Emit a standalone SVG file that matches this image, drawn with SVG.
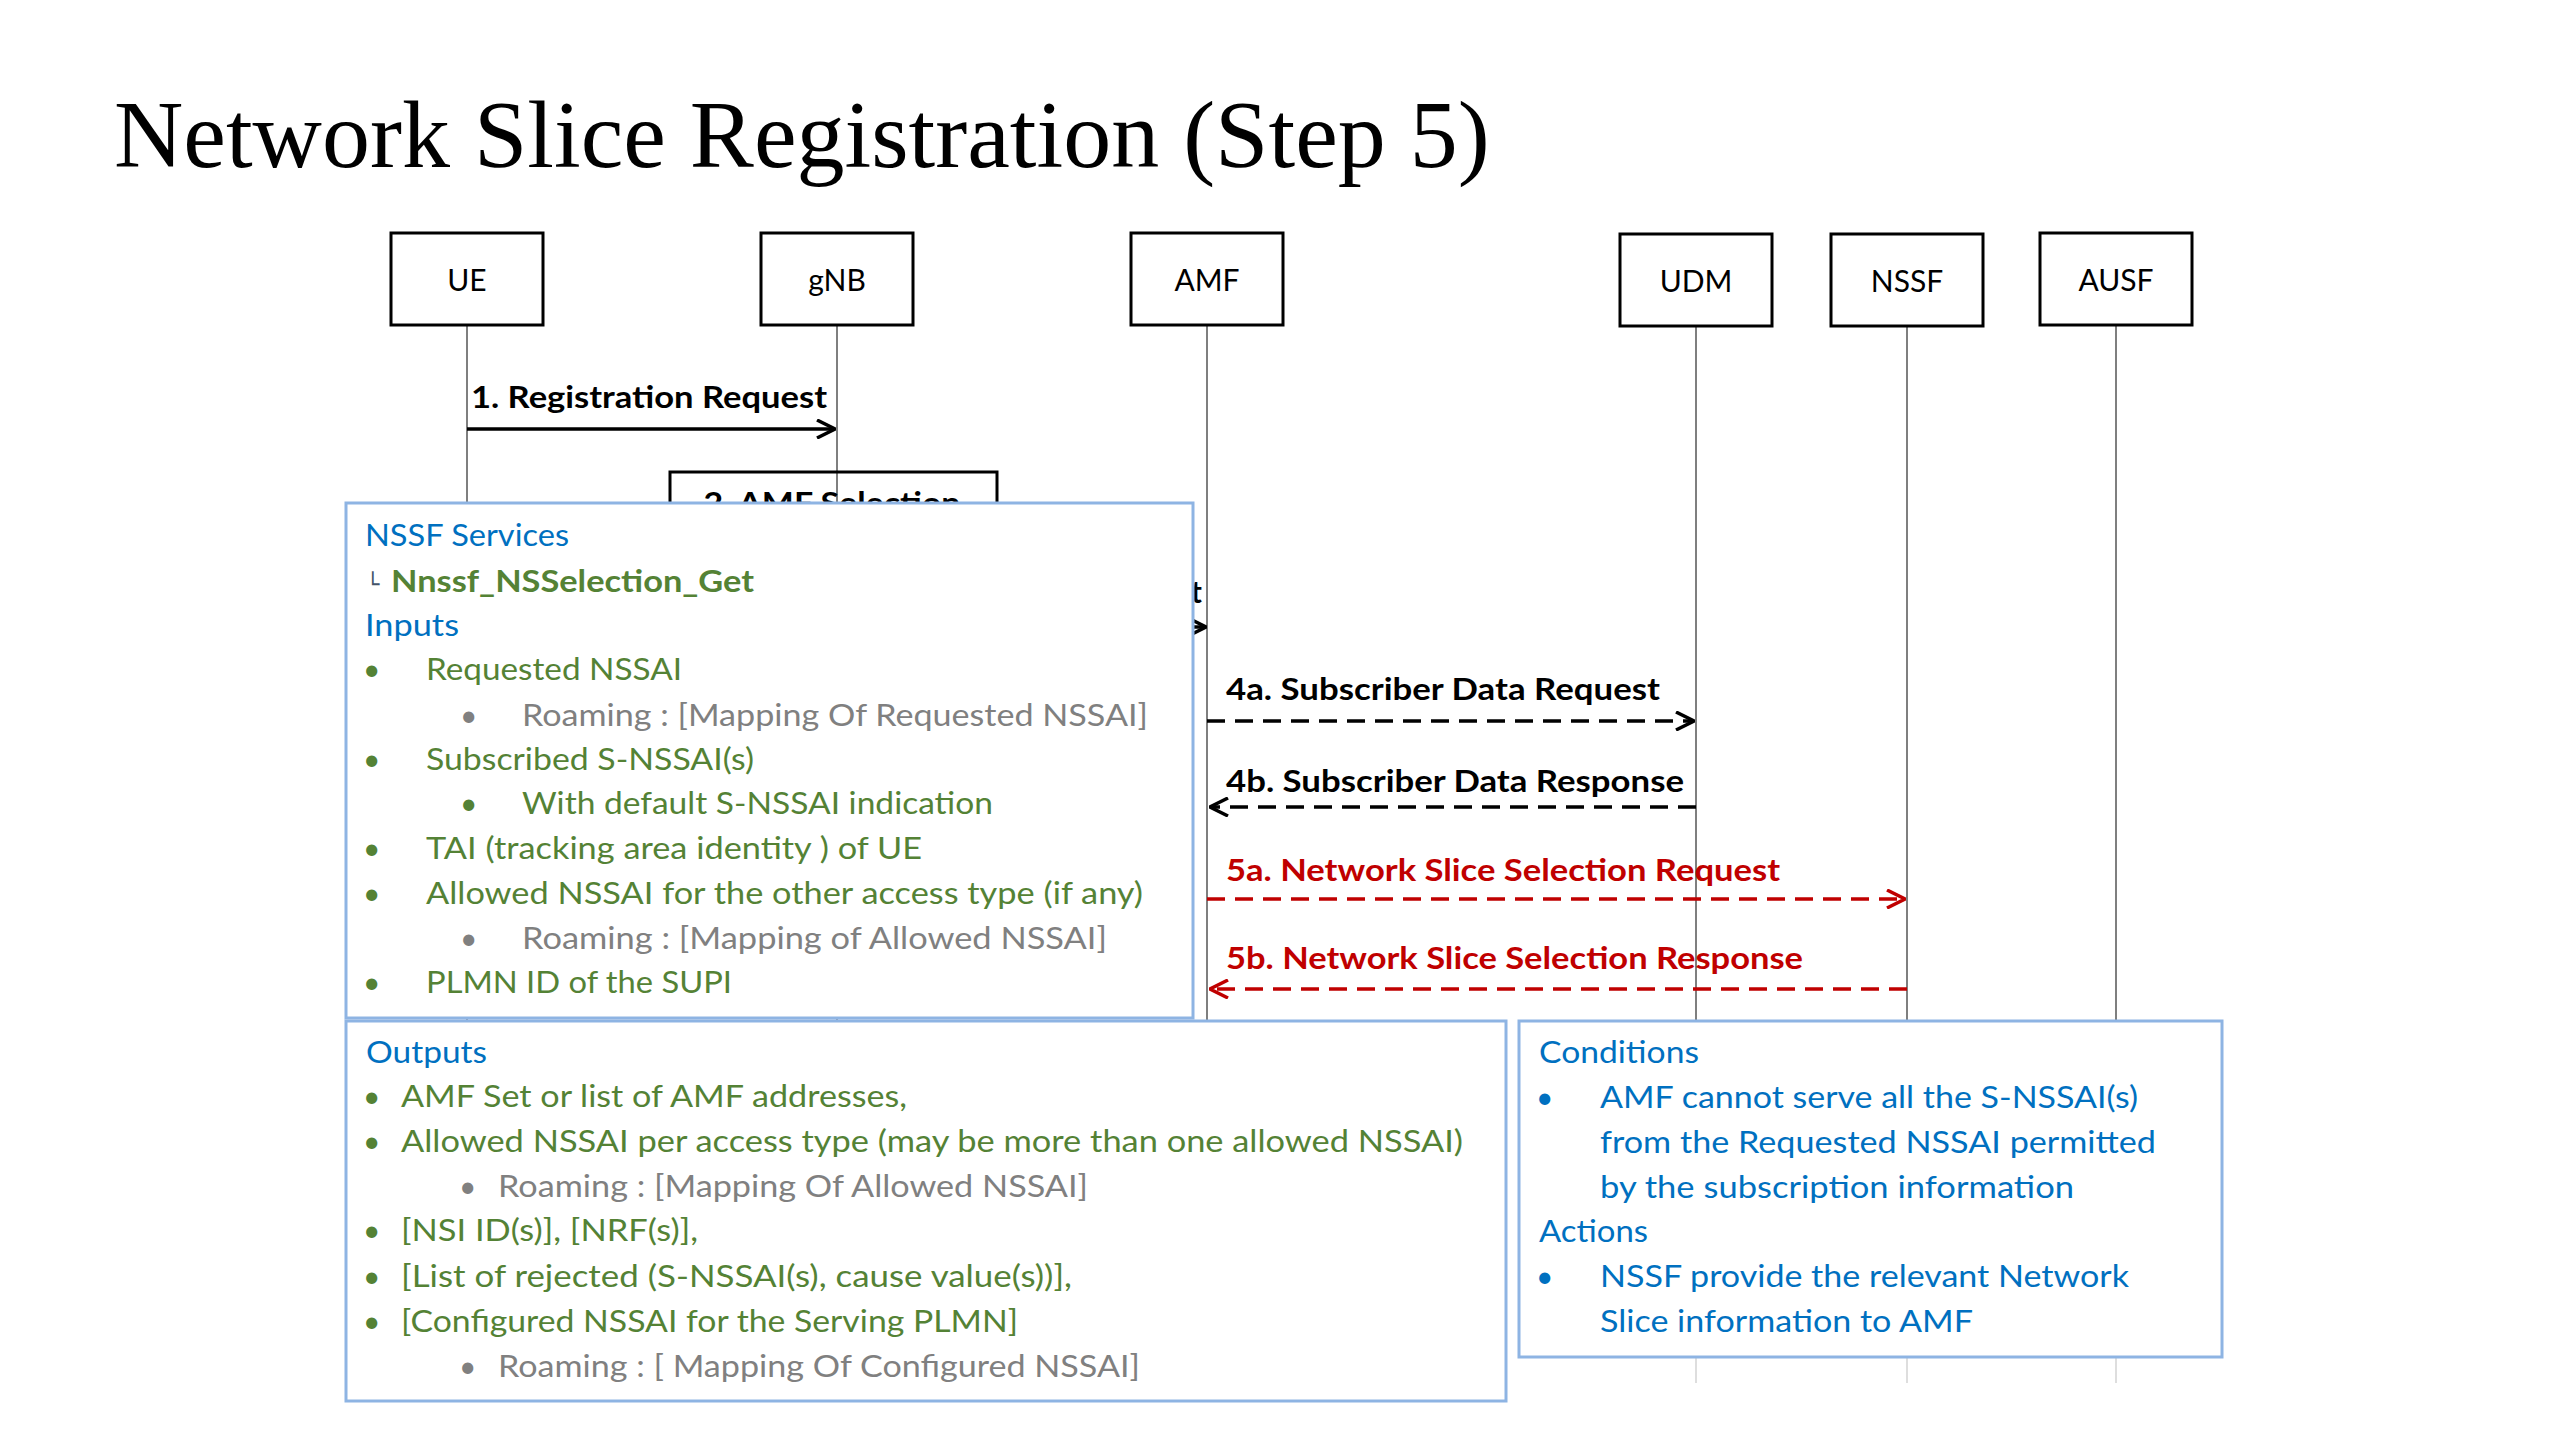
<svg xmlns="http://www.w3.org/2000/svg" width="2560" height="1440" viewBox="0 0 2560 1440">
<style>
text{font-family:Lato,"Open Sans","Liberation Sans",sans-serif;font-size:30px}
.title{font-family:"Liberation Serif","Times New Roman",serif;font-size:96px;fill:#000}
.box{fill:#fff;stroke:#000;stroke-width:3}
.pl{text-anchor:middle;fill:#000}
.life{stroke:#7f7f7f;stroke-width:2}
.lifef{stroke:#dedede;stroke-width:2}
.msg{font-weight:700;fill:#000}
.msgr{font-weight:700;fill:#c00000}
.note{fill:#fff;stroke:#8eb4e3;stroke-width:3}
.h{fill:#0070c0}
.g{fill:#548235}
.gb{fill:#548235;font-weight:700}
.gr{fill:#808080}
.solid{stroke:#000;stroke-width:3.5;fill:none}
.dash{stroke:#000;stroke-width:3.5;stroke-dasharray:18 10;fill:none}
.dashr{stroke:#c00000;stroke-width:3.5;stroke-dasharray:18 10;fill:none}
</style>
<defs>
<marker id="ahk" viewBox="0 0 20 20" refX="19" refY="10" markerWidth="20" markerHeight="20" markerUnits="userSpaceOnUse" orient="auto"><path d="M1,1 L19,10 L1,19" fill="none" stroke="#000" stroke-width="3.5"/></marker>
<marker id="ahr" viewBox="0 0 20 20" refX="19" refY="10" markerWidth="20" markerHeight="20" markerUnits="userSpaceOnUse" orient="auto"><path d="M1,1 L19,10 L1,19" fill="none" stroke="#c00000" stroke-width="3.5"/></marker>
</defs>
<rect width="2560" height="1440" fill="#fff"/>
<text class="title" x="114" y="167">Network Slice Registration (Step 5)</text>

<g id="node-ue"><line class="life" x1="467" y1="326" x2="467" y2="1020"/><rect class="box" x="391" y="233" width="152" height="92"/><text class="pl" x="467" y="291">UE</text></g>
<g id="node-gnb"><line class="life" x1="837" y1="326" x2="837" y2="1020"/><rect class="box" x="761" y="233" width="152" height="92"/><text class="pl" x="837" y="291">gNB</text></g>
<g id="node-amf"><line class="life" x1="1207" y1="326" x2="1207" y2="1022"/><rect class="box" x="1131" y="233" width="152" height="92"/><text class="pl" x="1207" y="291">AMF</text></g>
<g id="node-udm"><line class="life" x1="1696" y1="326" x2="1696" y2="1022"/><line class="lifef" x1="1696" y1="1358" x2="1696" y2="1383"/><rect class="box" x="1620" y="234" width="152" height="92"/><text class="pl" x="1696" y="292">UDM</text></g>
<g id="node-nssf"><line class="life" x1="1907" y1="326" x2="1907" y2="1022"/><line class="lifef" x1="1907" y1="1358" x2="1907" y2="1383"/><rect class="box" x="1831" y="234" width="152" height="92"/><text class="pl" x="1907" y="292">NSSF</text></g>
<g id="node-ausf"><line class="life" x1="2116" y1="326" x2="2116" y2="1022"/><line class="lifef" x1="2116" y1="1358" x2="2116" y2="1383"/><rect class="box" x="2040" y="233" width="152" height="92"/><text class="pl" x="2116" y="291">AUSF</text></g>

<g id="node-step2"><rect x="670" y="472" width="327" height="120" fill="none" stroke="#000" stroke-width="3"/><text class="msg" x="832" y="514" text-anchor="middle" textLength="257" lengthAdjust="spacingAndGlyphs">2. AMF Selection</text></g>

<g id="connectors">
<text class="msg" x="471" y="408" textLength="356" lengthAdjust="spacingAndGlyphs">1. Registration Request</text>
<line class="solid" x1="467" y1="429" x2="835" y2="429" marker-end="url(#ahk)"/>
<text class="msg" x="1202" y="603" text-anchor="end">t</text>
<line class="solid" x1="1170" y1="627" x2="1206" y2="627" marker-end="url(#ahk)"/>
<text class="msg" x="1226" y="700" textLength="434" lengthAdjust="spacingAndGlyphs">4a. Subscriber Data Request</text>
<line class="dash" x1="1207" y1="721" x2="1694" y2="721" marker-end="url(#ahk)"/>
<text class="msg" x="1226" y="792" textLength="458" lengthAdjust="spacingAndGlyphs">4b. Subscriber Data Response</text>
<line class="dash" x1="1696" y1="807" x2="1210" y2="807" marker-end="url(#ahk)"/>
<text class="msgr" x="1226" y="881" textLength="554" lengthAdjust="spacingAndGlyphs">5a. Network Slice Selection Request</text>
<line class="dashr" x1="1207" y1="899" x2="1905" y2="899" marker-end="url(#ahr)"/>
<text class="msgr" x="1226" y="969" textLength="577" lengthAdjust="spacingAndGlyphs">5b. Network Slice Selection Response</text>
<line class="dashr" x1="1907" y1="989" x2="1210" y2="989" marker-end="url(#ahr)"/>
</g>

<g id="node-nssf-services">
<rect class="note" x="346" y="503" width="847" height="515"/>
<text class="h" x="365" y="546" textLength="204" lengthAdjust="spacingAndGlyphs">NSSF Services</text>
<text x="366" y="592" style="font-family:'DejaVu Sans',sans-serif;font-size:22px;fill:#44546a">└</text>
<text class="gb" x="391" y="592" textLength="363" lengthAdjust="spacingAndGlyphs">Nnssf_NSSelection_Get</text>
<text class="h" x="365" y="636" textLength="94" lengthAdjust="spacingAndGlyphs">Inputs</text>
<text class="g" x="363" y="680">•</text><text class="g" x="426" y="680" textLength="256" lengthAdjust="spacingAndGlyphs">Requested NSSAI</text>
<text class="gr" x="460" y="726">•</text><text class="gr" x="522" y="726" textLength="626" lengthAdjust="spacingAndGlyphs">Roaming : [Mapping Of Requested NSSAI]</text>
<text class="g" x="363" y="770">•</text><text class="g" x="426" y="770" textLength="328" lengthAdjust="spacingAndGlyphs">Subscribed S-NSSAI(s)</text>
<text class="g" x="460" y="814">•</text><text class="g" x="522" y="814" textLength="471" lengthAdjust="spacingAndGlyphs">With default S-NSSAI indication</text>
<text class="g" x="363" y="859">•</text><text class="g" x="426" y="859" textLength="496" lengthAdjust="spacingAndGlyphs">TAI (tracking area identity ) of UE</text>
<text class="g" x="363" y="904">•</text><text class="g" x="426" y="904" textLength="717" lengthAdjust="spacingAndGlyphs">Allowed NSSAI for the other access type (if any)</text>
<text class="gr" x="460" y="949">•</text><text class="gr" x="522" y="949" textLength="585" lengthAdjust="spacingAndGlyphs">Roaming : [Mapping of Allowed NSSAI]</text>
<text class="g" x="363" y="993">•</text><text class="g" x="426" y="993" textLength="306" lengthAdjust="spacingAndGlyphs">PLMN ID of the SUPI</text>
</g>

<g id="node-outputs">
<rect class="note" x="346" y="1021" width="1160" height="380"/>
<text class="h" x="366" y="1063" textLength="121" lengthAdjust="spacingAndGlyphs">Outputs</text>
<text class="g" x="363" y="1107">•</text><text class="g" x="401" y="1107" textLength="506" lengthAdjust="spacingAndGlyphs">AMF Set or list of AMF addresses,</text>
<text class="g" x="363" y="1152">•</text><text class="g" x="401" y="1152" textLength="1062" lengthAdjust="spacingAndGlyphs">Allowed NSSAI per access type (may be more than one allowed NSSAI)</text>
<text class="gr" x="459" y="1197">•</text><text class="gr" x="498" y="1197" textLength="590" lengthAdjust="spacingAndGlyphs">Roaming : [Mapping Of Allowed NSSAI]</text>
<text class="g" x="363" y="1241">•</text><text class="g" x="401" y="1241" textLength="297" lengthAdjust="spacingAndGlyphs">[NSI ID(s)], [NRF(s)],</text>
<text class="g" x="363" y="1287">•</text><text class="g" x="401" y="1287" textLength="671" lengthAdjust="spacingAndGlyphs">[List of rejected (S-NSSAI(s), cause value(s))],</text>
<text class="g" x="363" y="1332">•</text><text class="g" x="401" y="1332" textLength="617" lengthAdjust="spacingAndGlyphs">[Configured NSSAI for the Serving PLMN]</text>
<text class="gr" x="459" y="1377">•</text><text class="gr" x="498" y="1377" textLength="642" lengthAdjust="spacingAndGlyphs">Roaming : [ Mapping Of Configured NSSAI]</text>
</g>

<g id="node-conditions">
<rect class="note" x="1519" y="1021" width="703" height="336"/>
<text class="h" x="1539" y="1063" textLength="160" lengthAdjust="spacingAndGlyphs">Conditions</text>
<text class="h" x="1536" y="1108">•</text><text class="h" x="1600" y="1108" textLength="538" lengthAdjust="spacingAndGlyphs">AMF cannot serve all the S-NSSAI(s)</text>
<text class="h" x="1600" y="1153" textLength="556" lengthAdjust="spacingAndGlyphs">from the Requested NSSAI permitted</text>
<text class="h" x="1600" y="1198" textLength="474" lengthAdjust="spacingAndGlyphs">by the subscription information</text>
<text class="h" x="1539" y="1242" textLength="109" lengthAdjust="spacingAndGlyphs">Actions</text>
<text class="h" x="1536" y="1287">•</text><text class="h" x="1600" y="1287" textLength="529" lengthAdjust="spacingAndGlyphs">NSSF provide the relevant Network</text>
<text class="h" x="1600" y="1332" textLength="373" lengthAdjust="spacingAndGlyphs">Slice information to AMF</text>
</g>
</svg>
